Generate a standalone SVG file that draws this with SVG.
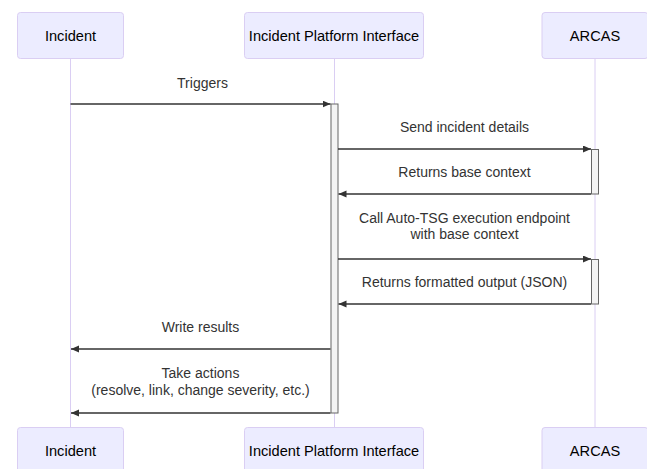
<svg xmlns="http://www.w3.org/2000/svg" width="647" height="469" viewBox="0 0 647 469">
<style>
.actor{fill:#ECECFF;stroke:#DACEF3;stroke-width:1}
.actorText{font-family:"Liberation Sans",Arial,sans-serif;font-size:14.6px;fill:#000;text-anchor:middle}
.life{stroke:#DACEF3;stroke-width:1}
.act{fill:#F4F4F4;stroke:#666;stroke-width:1}
.msg{stroke:#333;stroke-width:1.5;fill:none;marker-end:url(#arrow)}
.msgText{font-family:"Liberation Sans",Arial,sans-serif;font-size:14px;fill:#333;text-anchor:middle}
</style>
<defs>
<marker id="arrow" markerUnits="userSpaceOnUse" markerWidth="10" markerHeight="10" refX="8" refY="3.5" orient="auto">
<path d="M0,0 L8,3.5 L0,7 z" fill="#333"/>
</marker>
</defs>
<rect width="647" height="469" fill="#fff"/>
<g id="lifelines">
<line class="life" x1="70.5" y1="58.5" x2="70.5" y2="427.5"/>
<line class="life" x1="334.5" y1="58.5" x2="334.5" y2="427.5"/>
<line class="life" x1="595" y1="58.5" x2="595" y2="427.5"/>
</g>
<g id="actor-incident-top">
<rect class="actor" x="17.5" y="12.5" width="106" height="46" rx="3"/>
<text class="actorText" x="70.5" y="40.5">Incident</text>
</g>
<g id="actor-ipi-top">
<rect class="actor" x="244.5" y="12.5" width="179" height="46" rx="3"/>
<text class="actorText" x="334" y="40.5">Incident Platform Interface</text>
</g>
<g id="actor-arcas-top">
<rect class="actor" x="542" y="12.5" width="106" height="46" rx="3"/>
<text class="actorText" x="595" y="40.5">ARCAS</text>
</g>
<g id="activations">
<rect class="act" x="331" y="104" width="7" height="309"/>
<rect class="act" x="591.5" y="149.5" width="7" height="44.5"/>
<rect class="act" x="591.5" y="259.5" width="7" height="44.5"/>
</g>
<g id="connectors">
<line class="msg" x1="70.5" y1="104" x2="330.5" y2="104"/>
<text class="msgText" x="202.5" y="88">Triggers</text>
<line class="msg" x1="338" y1="149" x2="591" y2="149"/>
<text class="msgText" x="464.5" y="132">Send incident details</text>
<line class="msg" x1="591" y1="194" x2="338.5" y2="194"/>
<text class="msgText" x="464.5" y="177">Returns base context</text>
<line class="msg" x1="338" y1="259" x2="591" y2="259"/>
<text class="msgText" x="464.5" y="222.5">Call Auto-TSG execution endpoint</text>
<text class="msgText" x="464.5" y="239">with base context</text>
<line class="msg" x1="591" y1="304" x2="338.5" y2="304"/>
<text class="msgText" x="464.5" y="287">Returns formatted output (JSON)</text>
<line class="msg" x1="330.5" y1="349" x2="71" y2="349"/>
<text class="msgText" x="200.5" y="332">Write results</text>
<line class="msg" x1="330.5" y1="413" x2="71" y2="413"/>
<text class="msgText" x="200.5" y="378">Take actions</text>
<text class="msgText" x="200.5" y="395">(resolve, link, change severity, etc.)</text>
</g>
<g id="actor-incident-bottom">
<rect class="actor" x="17.5" y="427.5" width="106" height="46" rx="3"/>
<text class="actorText" x="70.5" y="455.5">Incident</text>
</g>
<g id="actor-ipi-bottom">
<rect class="actor" x="244.5" y="427.5" width="179" height="46" rx="3"/>
<text class="actorText" x="334" y="455.5">Incident Platform Interface</text>
</g>
<g id="actor-arcas-bottom">
<rect class="actor" x="542" y="427.5" width="106" height="46" rx="3"/>
<text class="actorText" x="595" y="455.5">ARCAS</text>
</g>
</svg>
